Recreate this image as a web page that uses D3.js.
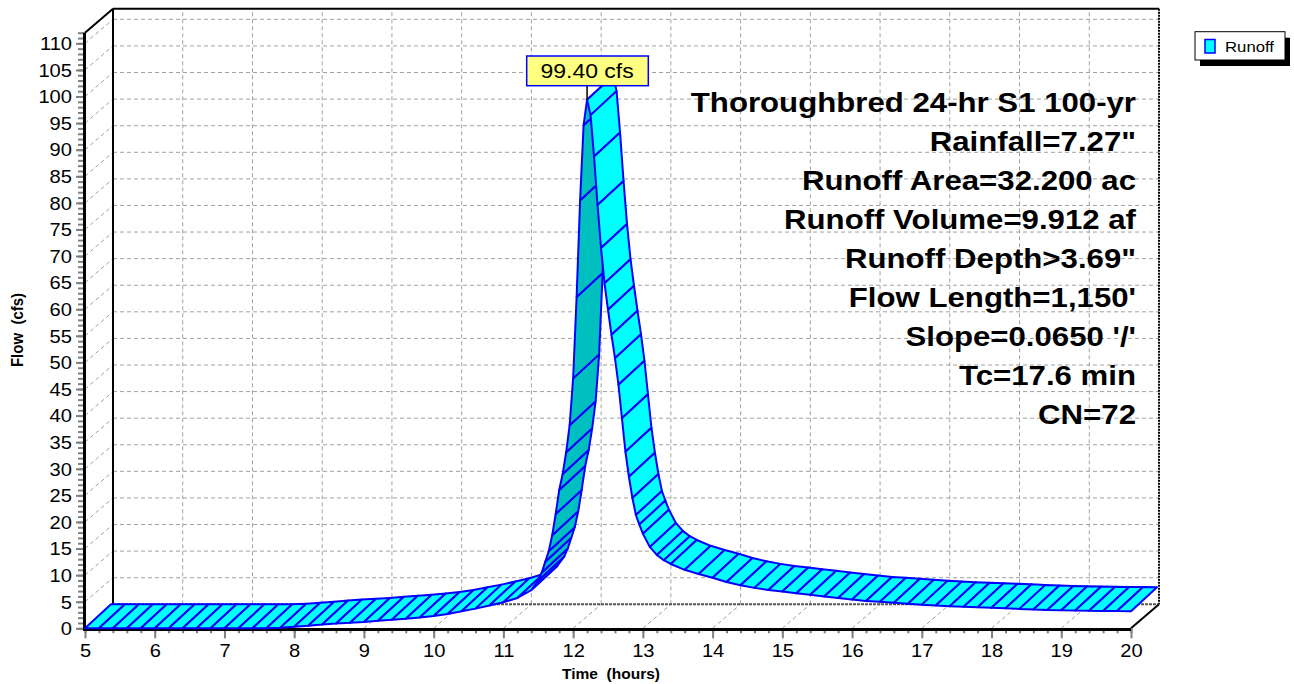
<!DOCTYPE html>
<html>
<head>
<meta charset="utf-8">
<script src="https://cdn.jsdelivr.net/npm/d3@7/dist/d3.min.js"></script>
<style>
  html, body { margin: 0; padding: 0; background: #fff; }
  svg { display: block; font-family: "Liberation Sans", Arial, sans-serif; }
  text { white-space: pre; }
</style>
</head>
<body>
<svg id="chart" width="1294" height="684"></svg>
<script>
// Hydrograph ordinates (hours, cfs)
const times = [
  5.0, 5.2, 5.4, 5.6, 5.8, 6.0, 6.2, 6.4, 6.6, 6.8, 7.0, 7.2, 7.4, 7.6, 7.8,
  8.0, 8.2, 8.4, 8.6, 8.8, 9.0, 9.2, 9.4, 9.6, 9.8, 10.0, 10.2, 10.4, 10.6, 10.8,
  11.0, 11.2, 11.4, 11.5, 11.55, 11.6, 11.65, 11.7, 11.75, 11.8, 11.85, 11.9, 11.95,
  12.0, 12.05, 12.1, 12.15, 12.2, 12.25, 12.3, 12.35, 12.4, 12.45, 12.5, 12.55,
  12.6, 12.65, 12.7, 12.75, 12.8, 12.85, 12.9, 12.95, 13.0, 13.1, 13.2, 13.3, 13.4,
  13.6, 13.8, 14.0, 14.2, 14.4, 14.6, 14.8, 15.0, 15.2, 15.4, 15.6, 15.8, 16.0,
  16.2, 16.4, 16.6, 16.8, 17.0, 17.2, 17.4, 17.6, 17.8, 18.0, 18.2, 18.4, 18.6,
  18.8, 19.0, 19.2, 19.4, 19.6, 19.8, 20.0
];
const flows = [
  0, 0, 0, 0, 0, 0, 0, 0, 0, 0, 0, 0, 0, 0, 0.1,
  0.3, 0.5, 0.7, 0.9, 1.05, 1.2, 1.4, 1.6, 1.8, 2.05, 2.3, 2.7, 3.2, 3.7, 4.3,
  4.9, 5.7, 7.2, 9.0, 10.5, 12.5, 14.5, 17.5, 21.5, 26.0, 29.0, 33.1, 38.2,
  47.0, 62.3, 80.5, 94.6, 99.4, 96.5, 88.7, 79.6, 71.5, 64.9, 59.9, 55.2,
  50.8, 45.8, 39.5, 33.2, 28.5, 24.5, 21.3, 19.5, 17.8, 15.3, 13.8, 12.8, 12.1,
  11.0, 10.2, 9.5, 8.7, 8.1, 7.6, 7.2, 6.9, 6.6, 6.3, 6.0, 5.7, 5.4,
  5.15, 5.0, 4.8, 4.6, 4.45, 4.3, 4.15, 4.05, 3.95, 3.85, 3.75, 3.65, 3.55,
  3.45, 3.4, 3.35, 3.3, 3.25, 3.25, 3.2
];
const seriesName = "Runoff";
const peakLabel = "99.40 cfs";
const peakTime = 12.2;
const peakFlow = 99.4;

const xMajorTicks = d3.range(5, 21, 1);
const xMinorTicks = d3.range(5, 20.001, 0.2).map(v => +v.toFixed(1));
const yMajorTicks = d3.range(0, 111, 5);
const yMinorTicks = d3.range(0, 113, 1);

const infoLines = [
  "Thoroughbred 24-hr S1 100-yr",
  "Rainfall=7.27\"",
  "Runoff Area=32.200 ac",
  "Runoff Volume=9.912 af",
  "Runoff Depth>3.69\"",
  "Flow Length=1,150'",
  "Slope=0.0650 '/'",
  "Tc=17.6 min",
  "CN=72"
];

// ---- layout ----
const DX = 28, DY = -24;         // depth offset of back wall
const RDX = 26, RDY = -24;       // depth offset of the series ribbon
const x = d3.scaleLinear().domain([5, 20]).range([85, 1131]);
const y = d3.scaleLinear().domain([0, 112]).range([628.3, 32.7]);

const svg = d3.select("#chart");
const gridColor = "#a0a0a0";

function sText(g, px, py, str, opts = {}) {
  return g.append("text")
    .attr("transform", `translate(${px},${py}) scale(${opts.sx || 1.15},1)`)
    .attr("text-anchor", opts.anchor || "start")
    .attr("font-size", opts.size || 16)
    .attr("font-weight", opts.weight || "normal")
    .attr("fill", opts.fill || "#000")
    .text(str);
}

// ---- back wall grid ----
const grid = svg.append("g").attr("stroke", gridColor).attr("stroke-width", 1)
  .attr("stroke-dasharray", "4,3").attr("fill", "none");
yMajorTicks.filter(v => v > 0).forEach(v => {
  grid.append("line").attr("x1", x(5) + DX).attr("x2", x(20) + DX)
    .attr("y1", y(v) + DY).attr("y2", y(v) + DY);
  grid.append("line").attr("x1", x(5)).attr("x2", x(5) + DX)
    .attr("y1", y(v)).attr("y2", y(v) + DY);
});
xMajorTicks.filter(t => t > 5 && t < 20).forEach(t => {
  grid.append("line").attr("x1", x(t) + DX).attr("x2", x(t) + DX)
    .attr("y1", y(0) + DY).attr("y2", y(112) + DY);
  grid.append("line").attr("x1", x(t)).attr("x2", x(t) + DX)
    .attr("y1", y(0)).attr("y2", y(0) + DY);
});

// ---- box frame ----
const frame = svg.append("g").attr("fill", "none");
frame.append("line").attr("x1", x(5) + DX).attr("x2", x(20) + DX)
  .attr("y1", y(112) + DY).attr("y2", y(112) + DY).attr("stroke", "#000").attr("stroke-width", 2);
frame.append("line").attr("x1", x(5) + DX).attr("x2", x(5) + DX)
  .attr("y1", y(112) + DY).attr("y2", y(0) + DY).attr("stroke", "#000").attr("stroke-width", 2);
frame.append("line").attr("x1", x(20) + DX).attr("x2", x(20) + DX)
  .attr("y1", y(112) + DY).attr("y2", y(0) + DY).attr("stroke", "#000").attr("stroke-width", 2)
  .attr("stroke-dasharray", "2,1");
frame.append("line").attr("x1", x(5) + DX).attr("x2", x(20) + DX)
  .attr("y1", y(0) + DY).attr("y2", y(0) + DY).attr("stroke", "#555").attr("stroke-width", 2)
  .attr("stroke-dasharray", "3,1");
frame.append("line").attr("x1", x(5)).attr("x2", x(5) + DX)
  .attr("y1", y(112)).attr("y2", y(112) + DY).attr("stroke", "#000").attr("stroke-width", 2);
frame.append("line").attr("x1", x(20)).attr("x2", x(20) + DX)
  .attr("y1", y(0)).attr("y2", y(0) + DY).attr("stroke", "#000").attr("stroke-width", 2);

// ---- axes ----
function styleAxis(g) {
  g.select(".domain").remove();
  g.selectAll(".tick line").attr("stroke", "#808080").attr("stroke-width", 2);
}
const yMinor = svg.append("g").attr("transform", `translate(${x(5)},0)`)
  .call(d3.axisLeft(y).tickValues(yMinorTicks).tickSize(7).tickFormat(""));
styleAxis(yMinor);
const yMajor = svg.append("g").attr("transform", `translate(${x(5)},0)`)
  .call(d3.axisLeft(y).tickValues(yMajorTicks).tickSize(9).tickFormat(d3.format("d")));
styleAxis(yMajor);
yMajor.selectAll(".tick text").each(function () {
  d3.select(this).attr("x", null).attr("dy", null)
    .attr("transform", "translate(-13,6.3) scale(1.15,1)")
    .attr("font-size", 17.5).attr("font-family", "Liberation Sans, Arial, sans-serif")
    .attr("fill", "#000");
});

const xMinor = svg.append("g").attr("transform", `translate(0,${y(0)})`)
  .call(d3.axisBottom(x).tickValues(xMinorTicks).tickSize(5).tickFormat(""));
styleAxis(xMinor);
const xMajor = svg.append("g").attr("transform", `translate(0,${y(0)})`)
  .call(d3.axisBottom(x).tickValues(xMajorTicks).tickSize(10).tickFormat(d3.format("d")));
styleAxis(xMajor);
xMajor.selectAll(".tick text").each(function () {
  d3.select(this).attr("y", null).attr("dy", null)
    .attr("transform", "translate(0,28.8) scale(1.15,1)")
    .attr("font-size", 17.5).attr("font-family", "Liberation Sans, Arial, sans-serif")
    .attr("fill", "#000");
});

// thick front axis lines
svg.append("line").attr("x1", x(5)).attr("x2", x(20)).attr("y1", y(0) + 1.2).attr("y2", y(0) + 1.2)
  .attr("stroke", "#000").attr("stroke-width", 3);
svg.append("line").attr("x1", x(5) - 0.5).attr("x2", x(5) - 0.5).attr("y1", y(112)).attr("y2", y(0) + 2.7)
  .attr("stroke", "#000").attr("stroke-width", 3);

// ---- 3D ribbon of the hydrograph ----
const pts = times.map((t, i) => [x(t), y(flows[i])]);
const ribbon = svg.append("g").attr("stroke", "#0000ff").attr("stroke-width", 2)
  .attr("stroke-linejoin", "round");
for (let i = 0; i < pts.length - 1; i++) {
  const f0 = pts[i], f1 = pts[i + 1];
  const b0 = [f0[0] + RDX, f0[1] + RDY], b1 = [f1[0] + RDX, f1[1] + RDY];
  const ex = f1[0] - f0[0], ey = f1[1] - f0[1];
  const cross = ex * RDY - ey * RDX;   // sign flips when the underside faces the viewer
  const fill = cross < 0 ? "#00ffff" : "#00bfbf";
  ribbon.append("path")
    .attr("d", d3.line()([f0, f1, b1, b0]) + "Z")
    .attr("fill", fill);
}

// ---- peak label ----
const pkX = x(peakTime), pkY = y(peakFlow);
svg.append("line").attr("x1", pkX).attr("x2", pkX).attr("y1", 85.7).attr("y2", pkY)
  .attr("stroke", "#000").attr("stroke-width", 1.5);
svg.append("rect").attr("x", 526.7).attr("y", 56).attr("width", 121.6).attr("height", 29.7)
  .attr("fill", "#ffff80").attr("stroke", "#0000ff").attr("stroke-width", 1.5);
sText(svg, pkX, 78.3, peakLabel, { anchor: "middle", size: 20, sx: 1.15 });

// ---- info text block ----
const info = svg.append("g");
infoLines.forEach((s, i) => {
  sText(info, 1136, 111.5 + i * 39.1, s, { anchor: "end", size: 27, weight: "bold", sx: 1.155 });
});

// ---- axis titles ----
sText(svg, 611, 679, "Time  (hours)", { anchor: "middle", size: 14.5, weight: "bold", sx: 1.07 });
svg.append("text")
  .attr("transform", "translate(22.5,330) scale(1.07,1) rotate(-90)")
  .attr("text-anchor", "middle").attr("font-size", 15).attr("font-weight", "bold")
  .text("Flow  (cfs)");

// ---- legend ----
const lg = svg.append("g");
lg.append("rect").attr("x", 1200).attr("y", 37.7).attr("width", 90).attr("height", 28.3).attr("fill", "#000");
lg.append("rect").attr("x", 1195).attr("y", 31.7).attr("width", 90).attr("height", 28.3)
  .attr("fill", "#fff").attr("stroke", "#000").attr("stroke-width", 1);
lg.append("rect").attr("x", 1205).attr("y", 39.5).attr("width", 10).attr("height", 13.5)
  .attr("fill", "#00ffff").attr("stroke", "#0000ff").attr("stroke-width", 1.5);
sText(lg, 1225, 52, seriesName, { size: 15.5, sx: 1.08 });
</script>
</body>
</html>
